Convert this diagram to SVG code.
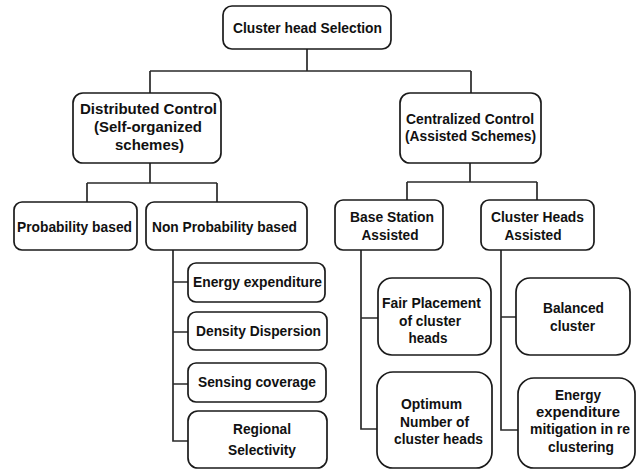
<svg xmlns="http://www.w3.org/2000/svg" width="638" height="470" viewBox="0 0 638 470">
<style>
rect.n{fill:#fff;stroke:#1a1a1a;stroke-width:1.7}
text{font-family:"Liberation Sans",Arial,sans-serif;font-weight:bold;font-size:15px;fill:#111;text-anchor:middle}
#connectors path{fill:none;stroke:#2a2a2a;stroke-width:1.7}
</style>
<rect width="638" height="470" fill="#fff"/>
<g id="connectors">
<path d="M307 49V71M150 71H471M150 71V93M471 71V93"/>
<path d="M150 163V183M87 183H217M87 183V202M217 183V202"/>
<path d="M470 163V182M407 182H537M407 182V200M537 182V200"/>
<path d="M173 250V441H188M173 282H188M173 332H188M173 384H188"/>
<path d="M361 250V429H378M361 318H378"/>
<path d="M501 250V430H518M501 317H516"/>
</g>
<g id="root"><rect class="n" x="223" y="6" width="168" height="43" rx="9"/><text x="307.5" y="33" textLength="149" lengthAdjust="spacingAndGlyphs">Cluster head Selection</text></g>
<g id="distributed"><rect class="n" x="73" y="93" width="148" height="70" rx="10"/>
<text x="148.5" y="114" textLength="137" lengthAdjust="spacingAndGlyphs">Distributed Control</text>
<text x="148" y="132" textLength="108" lengthAdjust="spacingAndGlyphs">(Self-organized</text>
<text x="149.5" y="150" textLength="69" lengthAdjust="spacingAndGlyphs">schemes)</text></g>
<g id="centralized"><rect class="n" x="400" y="93" width="141" height="70" rx="10"/>
<text x="470" y="124" textLength="128" lengthAdjust="spacingAndGlyphs">Centralized Control</text>
<text x="470.5" y="141" textLength="131" lengthAdjust="spacingAndGlyphs">(Assisted Schemes)</text></g>
<g id="probability"><rect class="n" x="14" y="202" width="123" height="48" rx="8"/>
<text x="74.5" y="232" textLength="115" lengthAdjust="spacingAndGlyphs">Probability based</text></g>
<g id="nonprobability"><rect class="n" x="146" y="202" width="161" height="48" rx="8"/>
<text x="224.5" y="232" textLength="145" lengthAdjust="spacingAndGlyphs">Non Probability based</text></g>
<g id="basestation"><rect class="n" x="335" y="200" width="108" height="50" rx="8"/>
<text x="392" y="222" textLength="84" lengthAdjust="spacingAndGlyphs">Base Station</text>
<text x="390" y="240" textLength="57" lengthAdjust="spacingAndGlyphs">Assisted</text></g>
<g id="clusterheads"><rect class="n" x="481" y="200" width="113" height="50" rx="8"/>
<text x="537.5" y="222" textLength="93" lengthAdjust="spacingAndGlyphs">Cluster Heads</text>
<text x="533" y="240" textLength="57" lengthAdjust="spacingAndGlyphs">Assisted</text></g>
<g id="energy"><rect class="n" x="188" y="263" width="137" height="39" rx="8"/>
<text x="257.5" y="287" textLength="129" lengthAdjust="spacingAndGlyphs">Energy expenditure</text></g>
<g id="density"><rect class="n" x="188" y="312" width="139" height="38" rx="8"/>
<text x="258.5" y="336" textLength="125" lengthAdjust="spacingAndGlyphs">Density Dispersion</text></g>
<g id="sensing"><rect class="n" x="188" y="363" width="138" height="39" rx="8"/>
<text x="257" y="387" textLength="118" lengthAdjust="spacingAndGlyphs">Sensing coverage</text></g>
<g id="regional"><rect class="n" x="188" y="411" width="139" height="57" rx="10"/>
<text x="262" y="434" textLength="58" lengthAdjust="spacingAndGlyphs">Regional</text>
<text x="262" y="455" textLength="68" lengthAdjust="spacingAndGlyphs">Selectivity</text></g>
<g id="fairplacement"><rect class="n" x="378" y="278" width="113" height="77" rx="14"/>
<text x="431.5" y="308" textLength="99" lengthAdjust="spacingAndGlyphs">Fair Placement</text>
<text x="430" y="326" textLength="62" lengthAdjust="spacingAndGlyphs">of cluster</text>
<text x="428" y="343" textLength="39" lengthAdjust="spacingAndGlyphs">heads</text></g>
<g id="optimum"><rect class="n" x="377" y="372" width="115" height="96" rx="16"/>
<text x="431.5" y="409" textLength="61" lengthAdjust="spacingAndGlyphs">Optimum</text>
<text x="434.5" y="427" textLength="69" lengthAdjust="spacingAndGlyphs">Number of</text>
<text x="438.5" y="444" textLength="89" lengthAdjust="spacingAndGlyphs">cluster heads</text></g>
<g id="balanced"><rect class="n" x="516" y="278" width="114" height="77" rx="14"/>
<text x="573.5" y="313" textLength="61" lengthAdjust="spacingAndGlyphs">Balanced</text>
<text x="572.5" y="331" textLength="45" lengthAdjust="spacingAndGlyphs">cluster</text></g>
<g id="mitigation"><rect class="n" x="518" y="378" width="117" height="90" rx="16"/>
<text x="578" y="400" textLength="46" lengthAdjust="spacingAndGlyphs">Energy</text>
<text x="578" y="417" textLength="84" lengthAdjust="spacingAndGlyphs">expenditure</text>
<text x="580" y="434" textLength="100" lengthAdjust="spacingAndGlyphs">mitigation in re</text>
<text x="581" y="452" textLength="66" lengthAdjust="spacingAndGlyphs">clustering</text></g>
</svg>
